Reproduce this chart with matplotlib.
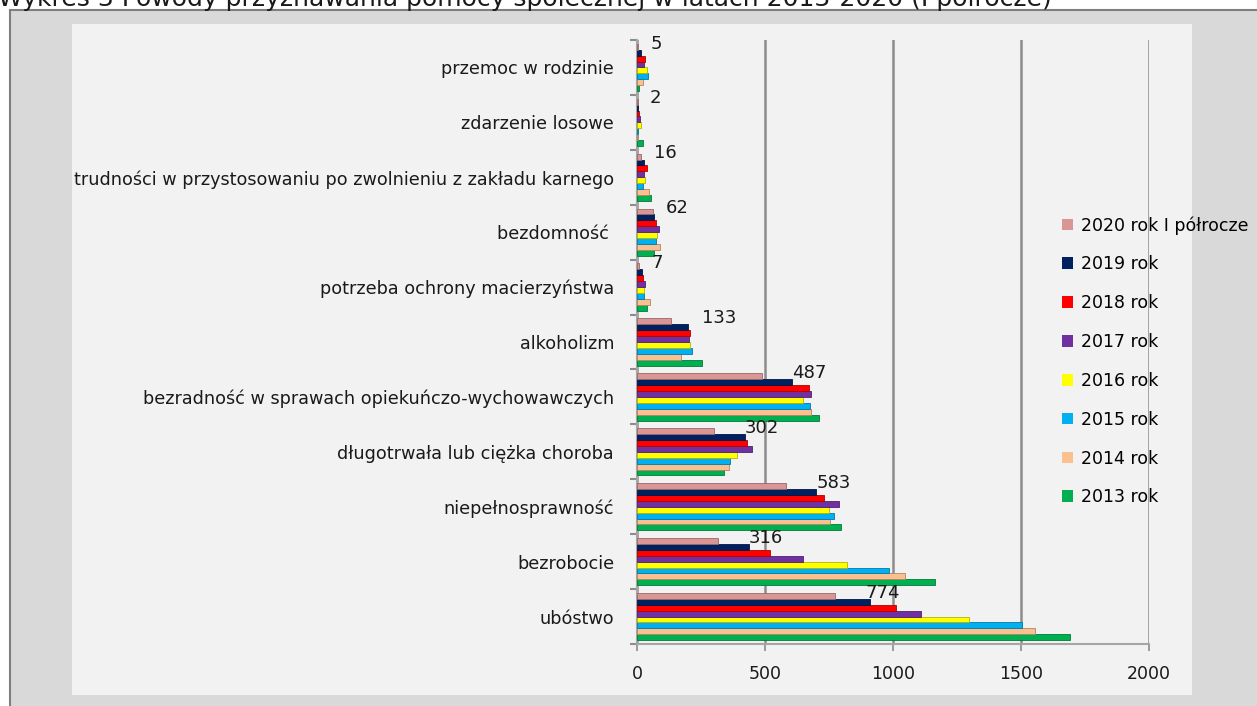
import matplotlib
matplotlib.use("Agg")
import matplotlib.pyplot as plt
import matplotlib.colors as mcolors
from matplotlib.patches import Rectangle
import numpy as np

plt.rcParams["font.family"] = ["DejaVu Sans"]

# categories listed top to bottom as in the chart
categories = [
    "przemoc w rodzinie",
    "zdarzenie losowe",
    "trudności w przystosowaniu po zwolnieniu z zakładu karnego",
    "bezdomność ",
    "potrzeba ochrony macierzyństwa",
    "alkoholizm",
    "bezradność w sprawach opiekuńczo-wychowawczych",
    "długotrwała lub ciężka choroba",
    "niepełnosprawność",
    "bezrobocie",
    "ubóstwo",
]

years = ["2013 rok", "2014 rok", "2015 rok", "2016 rok", "2017 rok", "2018 rok", "2019 rok", "2020 rok I półrocze"]

v2013 = [9, 24, 56, 68, 41, 255, 711, 340, 796, 1166, 1691]
v2014 = [25, 3, 46, 88, 51, 172, 681, 360, 754, 1048, 1554]
v2015 = [44, 5, 25, 73, 27, 215, 676, 362, 770, 986, 1502]
v2016 = [38, 17, 31, 79, 27, 208, 649, 389, 750, 819, 1296]
v2017 = [28, 13, 28, 84, 33, 204, 681, 449, 791, 648, 1108]
v2018 = [30, 8, 38, 76, 22, 206, 672, 430, 730, 521, 1010]
v2019 = [17, 3, 28, 68, 19, 198, 606, 423, 698, 439, 912]
v2020 = [5, 2, 16, 62, 7, 133, 487, 302, 583, 316, 774]

series = [v2013, v2014, v2015, v2016, v2017, v2018, v2019, v2020]
colors = ["#00b050", "#fac090", "#00b0f0", "#ffff00", "#7030a0", "#ff0000", "#002060", "#d99694"]

W, H = 1257, 706
fig = plt.figure(figsize=(W / 100, H / 100), dpi=100)
fig.patch.set_facecolor("white")

# chart area and plot area backgrounds
fig.patches.append(Rectangle((10 / W, -0.05), 1.1, 1 - 10 / H + 0.05, transform=fig.transFigure,
                             facecolor="#d9d9d9", edgecolor="#7f7f7f", lw=1.5, zorder=-3))
fig.patches.append(Rectangle((72 / W, 1 - 695 / H), (1192 - 72) / W, (695 - 24) / H,
                             transform=fig.transFigure, facecolor="#f2f2f2", edgecolor="none", zorder=-2))

fig.text(-2 / W, 1 - 6 / H,
         "Wykres 3 Powody przyznawania pomocy społecznej w latach 2013-2020 (I półrocze)",
         fontsize=18, ha="left", va="baseline", color="#1a1a1a", zorder=-1)

ax = fig.add_axes([637 / W, 1 - 644 / H, (1149 - 637) / W, (644 - 40) / H])
ax.set_facecolor("none")

n = len(categories)
ypos = np.arange(n)[::-1]  # first category at top
nser = len(series)
bh = 0.86 / nser
for i, (vals, col) in enumerate(zip(series, colors)):
    off = -0.43 + bh * (i + 0.5)
    edge = np.array(mcolors.to_rgb(col)) * 0.7
    ax.barh(ypos + off, vals, height=bh, color=col, edgecolor=edge, lw=0.6, zorder=3)

# data labels for the 2020 series
off20 = -0.43 + bh * (nser - 0.5)
for y, v in zip(ypos, v2020):
    shift = 22 if v >= 100 else 9
    ax.annotate(str(v), (v, y + off20 + 0.06), xytext=(shift, 0), textcoords="offset points",
                ha="left", va="center", fontsize=13, color="#1a1a1a", zorder=4)

ax.set_xlim(0, 2000)
ax.set_ylim(-0.5, n - 0.5)
ax.set_xticks([0, 500, 1000, 1500, 2000])
ax.set_yticks(np.arange(n + 1) - 0.5, minor=True)
ax.set_yticks(ypos)
ax.set_yticklabels(categories, fontsize=12.7, color="#1a1a1a")
ax.tick_params(axis="y", which="major", length=0, pad=16.5)
ax.tick_params(axis="y", which="minor", length=5, color="#8c8c8c", width=1.5)
ax.tick_params(axis="x", length=5, color="#8c8c8c", width=1.2, labelsize=12.5, pad=10,
               labelcolor="#1a1a1a")

ax.grid(axis="x", color="#8c8c8c", lw=1.8, zorder=1)
for s in ["top", "right"]:
    ax.spines[s].set_visible(False)
for s in ["left", "bottom"]:
    ax.spines[s].set_color("#a6a6a6")
    ax.spines[s].set_linewidth(1.5)

handles = [Rectangle((0, 0), 1, 1, facecolor=c, edgecolor="none") for c in colors][::-1]
fig.legend(handles, years[::-1], loc="upper left", bbox_to_anchor=(1062 / W, 1 - 216 / H),
           frameon=False, fontsize=12.5, handlelength=0.65, handleheight=0.65,
           handletextpad=0.45, labelspacing=1.2, borderaxespad=0, borderpad=0)

fig.savefig("out.png", dpi=100)
